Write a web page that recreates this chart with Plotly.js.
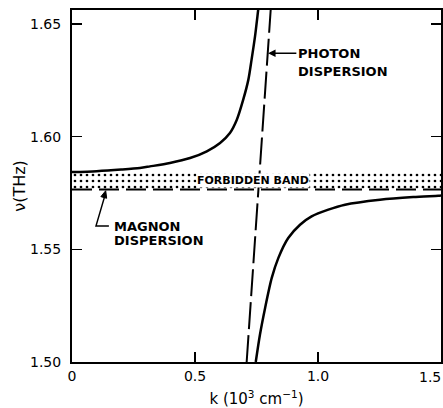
<!DOCTYPE html>
<html>
<head>
<meta charset="utf-8">
<script src="https://cdn.plot.ly/plotly-3.0.1.min.js"></script>
<style>html,body{margin:0;padding:0;background:#fff;}#chart{width:443px;height:408px;}</style>
</head>
<body>
<div id="chart"></div>
<script>
// Upper polariton branch
const kUpper  = [0, 0.10, 0.20, 0.276, 0.317, 0.398, 0.480, 0.548, 0.602, 0.642, 0.670, 0.696, 0.717, 0.730, 0.744, 0.757, 0.761];
const nuUpper = [1.5843, 1.5847, 1.5854, 1.5861, 1.5868, 1.5883, 1.5905, 1.5935, 1.5972, 1.6016, 1.6075, 1.6164, 1.6253, 1.6342, 1.6445, 1.6564, 1.6600];
// Lower polariton branch
const kLower  = [0.747, 0.764, 0.785, 0.812, 0.839, 0.879, 0.927, 0.974, 1.042, 1.110, 1.252, 1.387, 1.489, 1.500];
const nuLower = [1.5000, 1.5121, 1.5240, 1.5373, 1.5462, 1.5550, 1.5609, 1.5646, 1.5676, 1.5698, 1.5720, 1.5732, 1.5738, 1.5739];
// Photon dispersion (dashed)
const kPhoton  = [0.710, 0.810];
const nuPhoton = [1.500, 1.660];
// Magnon dispersion (dashed)
const kMagnon  = [0, 1.5];
const nuMagnon = [1.5766, 1.5766];
// Forbidden band limits
const bandLow = 1.5766, bandHigh = 1.5843;
// Ticks
const xTicks = [0, 0.5, 1.0, 1.5], xTickText = ['0', '0.5', '1.0', '1.5'];
const yTicks = [1.50, 1.55, 1.60, 1.65], yTickText = ['1.50', '1.55', '1.60', '1.65'];

const traces = [
  {x: [kMagnon[0], kMagnon[1], kMagnon[1], kMagnon[0], kMagnon[0]],
   y: [bandLow, bandLow, bandHigh, bandHigh, bandLow],
   type: 'scatter', mode: 'none', fill: 'toself', fillcolor: 'rgba(0,0,0,0)',
   fillpattern: {shape: '.', size: 6, solidity: 0.16, fgcolor: '#000', bgcolor: '#fff'},
   hoverinfo: 'skip', showlegend: false},
  {x: kMagnon, y: nuMagnon, type: 'scatter', mode: 'lines',
   line: {color: '#000', width: 2, dash: '20px,7px'}, showlegend: false},
  {x: kPhoton, y: nuPhoton, type: 'scatter', mode: 'lines',
   line: {color: '#000', width: 2, dash: '27px,6px'}, showlegend: false},
  {x: kUpper, y: nuUpper, type: 'scatter', mode: 'lines',
   line: {color: '#000', width: 2.5, shape: 'spline', smoothing: 0.8}, showlegend: false},
  {x: kLower, y: nuLower, type: 'scatter', mode: 'lines',
   line: {color: '#000', width: 2.5, shape: 'spline', smoothing: 0.8}, showlegend: false}
];

const lblFont = {family: 'DejaVu Sans', size: 13, color: '#000', weight: 'bold'};
const layout = {
  width: 443, height: 408,
  margin: {l: 72, r: 2, t: 10, b: 46},
  paper_bgcolor: '#fff', plot_bgcolor: '#fff',
  showlegend: false,
  font: {family: 'DejaVu Sans', color: '#000'},
  xaxis: {range: [0, 1.5], tickvals: xTicks, ticktext: xTickText,
    ticks: 'inside', ticklen: 10, tickwidth: 1.5, tickcolor: '#000',
    showline: true, linewidth: 2, linecolor: '#000', mirror: 'ticks',
    showgrid: false, zeroline: false, tickfont: {size: 14},
    title: {text: 'k (10<sup>3</sup> cm<sup>−1</sup>)', font: {size: 15}, standoff: 12}},
  yaxis: {range: [1.50, 1.6562], tickvals: yTicks, ticktext: yTickText,
    ticks: 'inside', ticklen: 10, tickwidth: 1.5, tickcolor: '#000',
    showline: true, linewidth: 2, linecolor: '#000', mirror: 'ticks',
    showgrid: false, zeroline: false, tickfont: {size: 14}, ticklabelstandoff: 6,
    title: {text: 'ν(THz)', font: {size: 16}, standoff: 0}},
  annotations: [
    {x: xTicks[3], y: 1.50, xref: 'x', yref: 'y', text: xTickText[3], showarrow: false,
     xanchor: 'right', yanchor: 'top', xshift: 2, yshift: -5, font: {family: 'DejaVu Sans', size: 14, color: '#000'}},
    {x: 0.734, y: 1.5805, xref: 'x', yref: 'y', text: 'FORBIDDEN BAND', showarrow: false,
     font: {family: 'DejaVu Sans', size: 11, color: '#000', weight: 'bold'}, bgcolor: '#fff', borderpad: 0},
    {x: 0.161, y: 1.5600, xref: 'x', yref: 'y', text: 'MAGNON', showarrow: false, xanchor: 'left', font: lblFont},
    {x: 0.161, y: 1.5538, xref: 'x', yref: 'y', text: 'DISPERSION', showarrow: false, xanchor: 'left', font: lblFont},
    {x: 0.797, y: 1.6370, xref: 'x', yref: 'y', ax: 0.912, ay: 1.6370, axref: 'x', ayref: 'y',
     text: 'PHOTON', showarrow: true, xanchor: 'left', arrowhead: 2, arrowsize: 1, arrowwidth: 1.5,
     arrowcolor: '#000', standoff: 0, font: lblFont},
    {x: 0.912, y: 1.6289, xref: 'x', yref: 'y', text: 'DISPERSION', showarrow: false, xanchor: 'left', font: lblFont}
  ],
  shapes: [
    {type: 'path', xref: 'x', yref: 'y', path: 'M0.150,1.5604 L0.0976,1.5604 L0.1355,1.5745',
     line: {color: '#000', width: 1.5}},
    {type: 'path', xref: 'x', yref: 'y', xsizemode: 'pixel', ysizemode: 'pixel',
     xanchor: 0.137, yanchor: 1.5760, path: 'M0,0 L0.97,-7.55 L-4.81,-5.91 Z',
     fillcolor: '#000', line: {color: '#000', width: 1}}
  ]
};
Plotly.newPlot('chart', traces, layout, {staticPlot: true, displayModeBar: false});
</script>
</body>
</html>
